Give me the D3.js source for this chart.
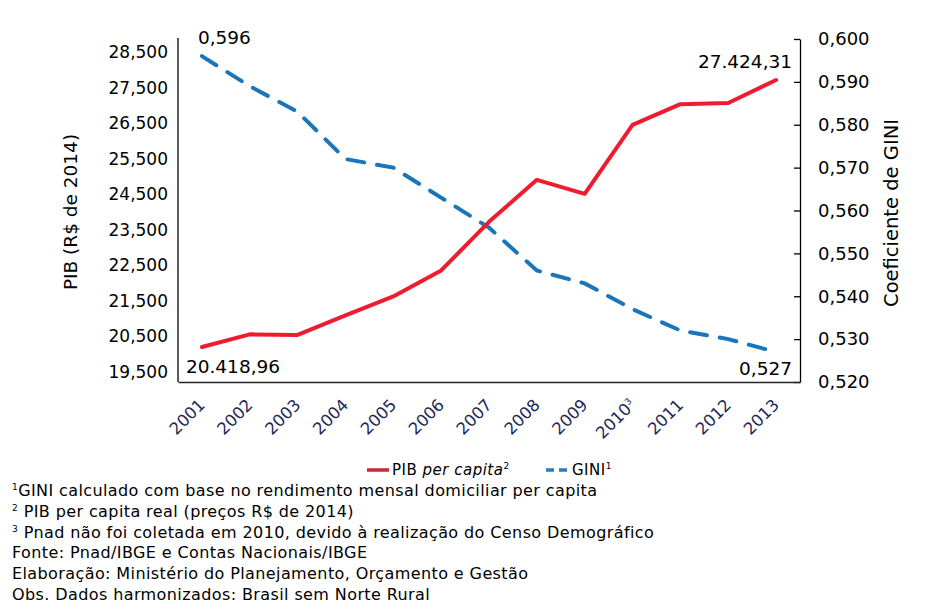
<!DOCTYPE html>
<html>
<head>
<meta charset="utf-8">
<script src="https://cdn.jsdelivr.net/npm/d3@7"></script>
<style>
  body { margin: 0; background: #fff; }
  svg { font-family: "DejaVu Sans", sans-serif; }
</style>
</head>
<body>
<div id="chart"></div>
<script>
const years = ['2001', '2002', '2003', '2004', '2005', '2006', '2007', '2008', '2009', '2010', '2011', '2012', '2013'];
const yearNotes = ['', '', '', '', '', '', '', '', '', '3', '', '', ''];
const pib = [20418.96, 20750, 20734, 21250, 21746, 22427, 23703, 24804, 24437, 26245, 26790, 26820, 27424.31];
const gini = [0.596, 0.589, 0.583, 0.572, 0.570, 0.563, 0.556, 0.546, 0.543, 0.537, 0.532, 0.530, 0.527];
const pibTicks = [19500, 20500, 21500, 22500, 23500, 24500, 25500, 26500, 27500, 28500];
const giniTicks = [0.52, 0.53, 0.54, 0.55, 0.56, 0.57, 0.58, 0.59, 0.60];
const notes = [
  ['1', 'GINI calculado com base no rendimento mensal domiciliar per capita'],
  ['2', ' PIB per capita real (preços R$ de 2014)'],
  ['3', ' Pnad não foi coletada em 2010, devido à realização do Censo Demográfico'],
  ['', 'Fonte: Pnad/IBGE e Contas Nacionais/IBGE'],
  ['', 'Elaboração: Ministério do Planejamento, Orçamento e Gestão'],
  ['', 'Obs. Dados harmonizados: Brasil sem Norte Rural']
];

const red = '#ee1c2e';
const blue = '#1b75bb';
const W = 947, H = 611;
const plot = { left: 178, right: 800, top: 38, bottom: 382 };

const svg = d3.select('#chart').append('svg')
  .attr('width', W)
  .attr('height', H);

const x = d3.scaleBand()
  .domain(years)
  .range([plot.left, plot.right]);

const yPib = d3.scaleLinear()
  .domain([19500, 28500])
  .range([plot.bottom, 39]);

// the printed labels on the left sit a little inside the scale range
const yPibLabels = yPib.copy().range([372, 52]);

const yGini = d3.scaleLinear()
  .domain([0.52, 0.60])
  .range([plot.bottom, 39]);

const fmtPib = v => d3.format(',')(v);
const fmtGini = v => d3.format('.3f')(v).replace('.', ',');

// left axis
const leftAxis = svg.append('g')
  .attr('transform', `translate(${plot.left},0)`)
  .call(d3.axisLeft(yPibLabels).tickValues(pibTicks).tickSize(0).tickPadding(10).tickFormat(fmtPib));
leftAxis.select('.domain').remove();
leftAxis.selectAll('text')
  .style('font-size', '17px')
  .style('font-family', '"DejaVu Sans", sans-serif')
  .attr('fill', '#000');

svg.append('line')
  .attr('x1', plot.left).attr('x2', plot.left)
  .attr('y1', plot.top).attr('y2', plot.bottom)
  .attr('stroke', '#000')
  .attr('stroke-width', 1.3);

// right axis
const rightAxis = svg.append('g')
  .attr('transform', `translate(${plot.right},0)`)
  .call(d3.axisRight(yGini).tickValues(giniTicks).tickSizeInner(-6).tickSizeOuter(0).tickPadding(18).tickFormat(fmtGini));
rightAxis.select('.domain').attr('stroke', '#000').attr('stroke-width', 1.3);
rightAxis.selectAll('.tick line').attr('stroke', '#000').attr('stroke-width', 1.3);
rightAxis.selectAll('text')
  .style('font-size', '18px')
  .style('font-family', '"DejaVu Sans", sans-serif')
  .attr('fill', '#000');

// bottom axis
const bottomAxis = svg.append('g')
  .attr('transform', `translate(0,${plot.bottom})`)
  .call(d3.axisBottom(x).tickSize(0).tickFormat(''));
bottomAxis.select('.domain').attr('stroke', '#222').attr('stroke-width', 1.3);

bottomAxis.selectAll('.tick')
  .append('text')
  .attr('fill', '#1f2a56')
  .attr('text-anchor', 'end')
  .attr('transform', 'translate(4,24) rotate(-45)')
  .style('font-size', '16.5px')
  .style('font-family', '"DejaVu Sans", sans-serif')
  .each(function(d, i) {
    const t = d3.select(this);
    t.append('tspan').text(d);
    if (yearNotes[i]) {
      t.append('tspan').attr('dy', '-6').style('font-size', '9px').text(yearNotes[i]);
    }
  });

// axis titles
svg.append('text')
  .attr('transform', `translate(72,${(plot.top + plot.bottom) / 2 + 2}) rotate(-90)`)
  .attr('text-anchor', 'middle')
  .attr('dominant-baseline', 'middle')
  .style('font-size', '18.5px')
  .text('PIB (R$ de 2014)');

svg.append('text')
  .attr('transform', `translate(892,${(plot.top + plot.bottom) / 2 + 3}) rotate(-90)`)
  .attr('text-anchor', 'middle')
  .attr('dominant-baseline', 'middle')
  .style('font-size', '19.5px')
  .text('Coeficiente de GINI');

// lines
const cx = d => x(d) + x.bandwidth() / 2;

const pibLine = d3.line()
  .x((d, i) => cx(years[i]))
  .y(d => yPib(d));

const giniLine = d3.line()
  .x((d, i) => cx(years[i]))
  .y(d => yGini(d));

svg.append('path')
  .datum(gini)
  .attr('d', giniLine)
  .attr('fill', 'none')
  .attr('stroke', blue)
  .attr('stroke-width', 4)
  .attr('stroke-dasharray', '17,13')
  .attr('stroke-linecap', 'round');

svg.append('path')
  .datum(pib)
  .attr('d', pibLine)
  .attr('fill', 'none')
  .attr('stroke', red)
  .attr('stroke-width', 4)
  .attr('stroke-linejoin', 'round')
  .attr('stroke-linecap', 'round');

// data labels
const last = years.length - 1;
const fmtBR = v => d3.format(',.2f')(v).replace(/,/g, '#').replace('.', ',').replace(/#/g, '.');

svg.append('text')
  .attr('x', cx(years[0]) - 4)
  .attr('y', yGini(gini[0]) - 12)
  .style('font-size', '18.5px')
  .text(fmtGini(gini[0]));

svg.append('text')
  .attr('x', cx(years[0]) - 16)
  .attr('y', yPib(pib[0]) + 26)
  .style('font-size', '18.5px')
  .text(fmtBR(pib[0]));

svg.append('text')
  .attr('x', cx(years[last]) + 16)
  .attr('y', yPib(pib[last]) - 12)
  .attr('text-anchor', 'end')
  .style('font-size', '18.5px')
  .text(fmtBR(pib[last]));

svg.append('text')
  .attr('x', cx(years[last]) + 16)
  .attr('y', yGini(gini[last]) + 23)
  .attr('text-anchor', 'end')
  .style('font-size', '18.5px')
  .text(fmtGini(gini[last]));

// legend
const legend = svg.append('g').attr('transform', 'translate(0,470)');

legend.append('line')
  .attr('x1', 367).attr('x2', 389)
  .attr('stroke', '#c8283a').attr('stroke-width', 3.5);

const lt1 = legend.append('text')
  .attr('x', 392).attr('dy', '0.35em')
  .style('font-size', '15px')
  .style('letter-spacing', '0.5px');
lt1.append('tspan').text('PIB ');
lt1.append('tspan').style('font-style', 'italic').text('per capita');
lt1.append('tspan').attr('dy', '-6').style('font-size', '9px').text('2');

legend.append('line')
  .attr('x1', 546).attr('x2', 569)
  .attr('stroke', '#2a7bbf').attr('stroke-width', 3.5)
  .attr('stroke-dasharray', '8,5');

const lt2 = legend.append('text')
  .attr('x', 572).attr('dy', '0.35em')
  .style('font-size', '15px')
  .style('letter-spacing', '0.5px');
lt2.append('tspan').text('GINI');
lt2.append('tspan').attr('dy', '-6').style('font-size', '9px').text('1');

// footnotes
const foot = svg.append('g');
notes.forEach((n, i) => {
  const t = foot.append('text')
    .attr('x', 12)
    .attr('y', 496 + i * 20.8)
    .style('font-size', '16px')
    .style('letter-spacing', '0.4px');
  if (n[0]) {
    t.append('tspan').attr('dy', '-6').style('font-size', '9px').text(n[0]);
    t.append('tspan').attr('dy', '6').text(n[1]);
  } else {
    t.text(n[1]);
  }
});
</script>
</body>
</html>
